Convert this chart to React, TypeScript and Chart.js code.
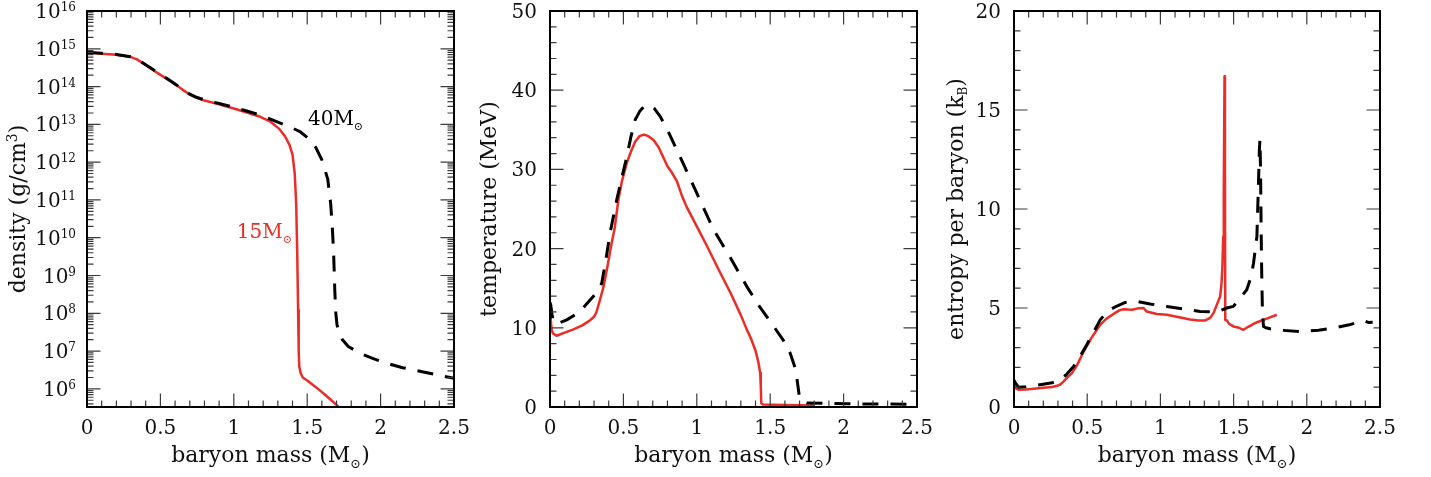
import React, { useEffect, useRef } from 'react';
import { Chart, registerables } from 'chart.js';

Chart.register(...registerables);

const RED = 'rgb(236,44,38)';
const BLACK = '#000';
const FONT = '"DejaVu Serif", "Liberation Serif", serif';

// ---------- shared x axis ----------
const xTickValues = [0, 0.5, 1, 1.5, 2, 2.5];
const xTickLabels = ['0', '0.5', '1', '1.5', '2', '2.5'];

// ---------- panel 1 : density (log10 g/cm^3) ----------
const densityTickExponents = [6, 7, 8, 9, 10, 11, 12, 13, 14, 15, 16];
const mass15Density = [0, 0.1, 0.2, 0.3, 0.34, 0.4, 0.45, 0.5, 0.55, 0.6, 0.65, 0.7, 0.75, 0.8, 0.9, 1.0, 1.1, 1.18, 1.25, 1.31, 1.35, 1.38, 1.4, 1.415, 1.425, 1.432, 1.438, 1.442, 1.446, 1.455, 1.47, 1.5, 1.54, 1.58, 1.62, 1.67, 1.72];
const log10Density15 = [14.9, 14.87, 14.84, 14.78, 14.72, 14.57, 14.44, 14.31, 14.19, 14.06, 13.92, 13.79, 13.7, 13.63, 13.53, 13.42, 13.3, 13.2, 13.07, 12.88, 12.68, 12.45, 12.2, 11.7, 10.9, 9.6, 8.1, 7.0, 6.6, 6.42, 6.3, 6.22, 6.1, 5.98, 5.85, 5.68, 5.5];
const mass40Density = [0, 0.1, 0.2, 0.3, 0.34, 0.4, 0.45, 0.5, 0.55, 0.6, 0.65, 0.7, 0.75, 0.8, 0.9, 1.0, 1.1, 1.2, 1.3, 1.4, 1.45, 1.52, 1.56, 1.6, 1.64, 1.66, 1.672, 1.68, 1.688, 1.695, 1.703, 1.715, 1.74, 1.78, 1.86, 1.95, 2.04, 2.15, 2.3, 2.5];
const log10Density40 = [14.91, 14.88, 14.85, 14.79, 14.73, 14.58, 14.45, 14.32, 14.2, 14.07, 13.93, 13.8, 13.71, 13.65, 13.55, 13.45, 13.34, 13.22, 13.06, 12.9, 12.81, 12.59, 12.38, 12.06, 11.55, 10.9, 10.2, 9.6, 8.6, 8.0, 7.7, 7.5, 7.3, 7.12, 6.94, 6.8, 6.68, 6.56, 6.44, 6.28];

// ---------- panel 2 : temperature (MeV) ----------
const tempTickValues = [0, 10, 20, 30, 40, 50];
const tempTickLabels = ['0', '10', '20', '30', '40', '50'];
const mass15Temp = [0, 0.005, 0.012, 0.02, 0.045, 0.1, 0.16, 0.22, 0.27, 0.3, 0.315, 0.34, 0.365, 0.39, 0.42, 0.44, 0.466, 0.49, 0.523, 0.55, 0.58, 0.61, 0.64, 0.67, 0.705, 0.74, 0.77, 0.8, 0.83, 0.865, 0.9, 0.93, 1.0, 1.07, 1.15, 1.23, 1.3, 1.34, 1.37, 1.4, 1.42, 1.432, 1.436, 1.439, 1.45, 1.6, 1.8];
const temp15 = [11.2, 11.0, 9.7, 9.3, 9.0, 9.4, 9.8, 10.3, 10.9, 11.4, 11.9, 13.5, 15.2, 17.6, 20.7, 22.5, 26.2, 28.5, 30.8, 32.2, 33.5, 34.2, 34.4, 34.2, 33.7, 32.8, 31.6, 30.4, 29.6, 28.5, 26.6, 25.3, 22.8, 20.3, 17.3, 14.4, 11.6, 9.8, 8.6, 7.1, 5.6, 4.3, 2.5, 0.5, 0.3, 0.25, 0.2];
const mass40Temp = [0, 0.005, 0.015, 0.025, 0.06, 0.114, 0.2, 0.273, 0.32, 0.352, 0.38, 0.409, 0.455, 0.49, 0.523, 0.55, 0.58, 0.61, 0.636, 0.66, 0.682, 0.71, 0.75, 0.8, 0.886, 1.0, 1.114, 1.23, 1.341, 1.43, 1.523, 1.59, 1.636, 1.665, 1.68, 1.69, 1.7, 1.72, 1.75, 2.02, 2.45];
const temp40 = [13.2, 12.9, 11.5, 10.6, 10.6, 11.0, 12.0, 13.5, 14.5, 15.6, 18.5, 21.95, 26.2, 29.0, 31.6, 34.0, 36.25, 37.3, 37.85, 38.1, 38.1, 37.7, 36.7, 35.0, 31.6, 27.0, 22.4, 18.8, 15.2, 12.6, 10.2, 8.4, 6.8, 5.2, 3.9, 2.5, 1.13, 0.7, 0.5, 0.4, 0.35];

// ---------- panel 3 : entropy per baryon (kB) ----------
const entropyTickValues = [0, 5, 10, 15, 20];
const entropyTickLabels = ['0', '5', '10', '15', '20'];
const mass15Entropy = [0, 0.01, 0.03, 0.08, 0.134, 0.2, 0.26, 0.294, 0.32, 0.339, 0.365, 0.396, 0.43, 0.476, 0.53, 0.589, 0.63, 0.68, 0.72, 0.748, 0.78, 0.805, 0.84, 0.885, 0.907, 0.975, 1.044, 1.12, 1.203, 1.26, 1.306, 1.34, 1.363, 1.385, 1.408, 1.418, 1.424, 1.429, 1.433, 1.438, 1.441, 1.443, 1.454, 1.47, 1.499, 1.53, 1.567, 1.6, 1.636, 1.66, 1.693, 1.74, 1.795];
const entropy15 = [1.1, 0.95, 0.87, 0.88, 0.92, 0.97, 1.01, 1.07, 1.15, 1.29, 1.5, 1.71, 2.1, 2.8, 3.5, 4.15, 4.45, 4.7, 4.88, 4.94, 4.92, 4.91, 4.97, 5.0, 4.82, 4.7, 4.66, 4.55, 4.42, 4.37, 4.37, 4.5, 4.74, 5.16, 5.58, 6.3, 7.2, 8.6, 11.0, 16.7, 12.0, 4.4, 4.37, 4.2, 4.07, 4.02, 3.9, 4.05, 4.2, 4.28, 4.37, 4.5, 4.66];
const mass40Entropy = [0, 0.01, 0.032, 0.08, 0.134, 0.2, 0.26, 0.316, 0.36, 0.407, 0.45, 0.498, 0.545, 0.589, 0.64, 0.703, 0.76, 0.84, 0.93, 1.044, 1.158, 1.272, 1.385, 1.454, 1.499, 1.544, 1.59, 1.62, 1.636, 1.659, 1.67, 1.676, 1.68, 1.684, 1.688, 1.692, 1.697, 1.704, 1.72, 1.749, 1.795, 1.84, 1.954, 2.08, 2.18, 2.29, 2.364, 2.39, 2.42, 2.45];
const entropy40 = [1.35, 1.2, 1.0, 1.02, 1.07, 1.15, 1.22, 1.37, 1.65, 2.05, 2.55, 3.16, 3.8, 4.4, 4.85, 5.1, 5.28, 5.33, 5.2, 5.08, 4.95, 4.82, 4.8, 5.0, 5.08, 5.5, 5.92, 6.6, 7.26, 8.6, 11.3, 12.98, 13.5, 12.0, 9.0, 6.75, 4.8, 4.07, 4.0, 3.95, 3.9, 3.87, 3.81, 3.88, 3.98, 4.15, 4.32, 4.36, 4.27, 4.28];

type Part = { t: string; size: number; dy: number };

const xTitle: Part[] = [
  { t: 'baryon mass (M', size: 22, dy: 0 },
  { t: '\u2299', size: 13, dy: 5.5 },
  { t: ')', size: 22, dy: 0 },
];

function richWidth(ctx: CanvasRenderingContext2D, parts: Part[]) {
  let w = 0;
  for (const p of parts) {
    ctx.font = `${p.size}px ${FONT}`;
    w += ctx.measureText(p.t).width;
  }
  return w;
}

function drawRich(ctx: CanvasRenderingContext2D, parts: Part[], x: number, y: number, align: 'left' | 'center' | 'right') {
  const w = richWidth(ctx, parts);
  let cx = align === 'left' ? x : align === 'center' ? x - w / 2 : x - w;
  ctx.textAlign = 'left';
  ctx.textBaseline = 'alphabetic';
  for (const p of parts) {
    ctx.font = `${p.size}px ${FONT}`;
    ctx.fillText(p.t, cx, y + p.dy);
    cx += ctx.measureText(p.t).width;
  }
}

interface Note { x: number; y: number; parts: Part[]; color: string }

interface PanelSpec {
  left: number;
  width: number;
  pad: { left: number; right: number; top: number; bottom: number };
  yType: 'linear' | 'logarithmic';
  yMin: number;
  yMax: number;
  yMajor: number[];
  yMinor: number[];
  yLabels: Part[][];
  yLabelRight: number;
  yTitle: Part[];
  yTitleX: number;
  xTitleY: number;
  red: { x: number[]; y: number[] };
  black: { x: number[]; y: number[] };
  notes: Note[];
}

function makeDecor(spec: PanelSpec) {
  return {
    id: 'panelDecor',
    afterDatasetsDraw(chart: any) {
      const { ctx, chartArea: a, scales } = chart;
      const xs = scales.x;
      const ys = scales.y;
      ctx.save();
      // ticks
      ctx.strokeStyle = '#3c3c3c';
      ctx.lineWidth = 1.2;
      ctx.beginPath();
      const MAJ = 13.5;
      const MIN = 6.5;
      const vt = (v: number, len: number) => {
        const px = xs.getPixelForValue(v);
        ctx.moveTo(px, a.bottom);
        ctx.lineTo(px, a.bottom - len);
        ctx.moveTo(px, a.top);
        ctx.lineTo(px, a.top + len);
      };
      const ht = (v: number, len: number) => {
        const py = ys.getPixelForValue(v);
        ctx.moveTo(a.left, py);
        ctx.lineTo(a.left + len, py);
        ctx.moveTo(a.right, py);
        ctx.lineTo(a.right - len, py);
      };
      for (let i = 0; i <= 25; i++) {
        if (i % 5 !== 0) vt(i / 10, MIN);
      }
      xTickValues.forEach((v) => vt(v, MAJ));
      spec.yMinor.forEach((v) => ht(v, MIN));
      spec.yMajor.forEach((v) => ht(v, MAJ));
      ctx.stroke();

      // frame
      ctx.strokeStyle = BLACK;
      ctx.lineWidth = 2;
      ctx.strokeRect(a.left, a.top, a.right - a.left, a.bottom - a.top);

      // tick labels
      ctx.fillStyle = '#111';
      xTickValues.forEach((v, i) => {
        drawRich(ctx, [{ t: xTickLabels[i], size: 20, dy: 0 }], xs.getPixelForValue(v), a.bottom + 26.5, 'center');
      });
      spec.yMajor.forEach((v, i) => {
        drawRich(ctx, spec.yLabels[i], spec.yLabelRight, ys.getPixelForValue(v) + 7, 'right');
      });

      // axis titles
      drawRich(ctx, xTitle, (a.left + a.right) / 2, spec.xTitleY, 'center');
      ctx.save();
      ctx.translate(spec.yTitleX, (a.top + a.bottom) / 2);
      ctx.rotate(-Math.PI / 2);
      drawRich(ctx, spec.yTitle, 0, 0, 'center');
      ctx.restore();

      // annotations
      spec.notes.forEach((n) => {
        ctx.fillStyle = n.color;
        drawRich(ctx, n.parts, xs.getPixelForValue(n.x), ys.getPixelForValue(n.y), 'left');
      });
      ctx.restore();
    },
  };
}

function toPoints(xs: number[], ys: number[], f?: (v: number) => number) {
  return xs.map((x, i) => ({ x, y: f ? f(ys[i]) : ys[i] }));
}

const H = 477;

const logMinor: number[] = [];
for (let n = 5; n <= 15; n++) {
  for (let m = 2; m <= 9; m++) {
    const v = m * Math.pow(10, n);
    if (v > Math.pow(10, 5.52) && v < 1e16) logMinor.push(v);
  }
}
const linMinor = (max: number, step: number, majorStep: number) => {
  const out: number[] = [];
  for (let v = 0; v <= max + 1e-9; v += step) {
    if (Math.abs(v / majorStep - Math.round(v / majorStep)) > 1e-6) out.push(v);
  }
  return out;
};

const panels: PanelSpec[] = [
  {
    left: 0,
    width: 477,
    pad: { left: 87, right: 23, top: 11, bottom: 70 },
    yType: 'logarithmic',
    yMin: Math.pow(10, 5.52),
    yMax: 1e16,
    yMajor: densityTickExponents.map((e) => Math.pow(10, e)),
    yMinor: logMinor,
    yLabels: densityTickExponents.map((e) => [
      { t: '10', size: 20, dy: 0 },
      { t: String(e), size: 12, dy: -7 },
    ]),
    yLabelRight: 76,
    yTitle: [
      { t: 'density (g/cm', size: 22, dy: 0 },
      { t: '3', size: 14, dy: -8 },
      { t: ')', size: 22, dy: 0 },
    ],
    yTitleX: 25,
    xTitleY: 462,
    red: { x: mass15Density, y: log10Density15 },
    black: { x: mass40Density, y: log10Density40 },
    notes: [
      { x: 1.505, y: 9.5e12, color: BLACK, parts: [{ t: '40M', size: 20, dy: 0 }, { t: '\u2299', size: 11, dy: 5 }] },
      { x: 1.02, y: 1.0e10, color: RED, parts: [{ t: '15M', size: 20, dy: 0 }, { t: '\u2299', size: 11, dy: 5 }] },
    ],
  },
  {
    left: 477,
    width: 458,
    pad: { left: 73, right: 18, top: 11, bottom: 70 },
    yType: 'linear',
    yMin: 0,
    yMax: 50,
    yMajor: tempTickValues,
    yMinor: linMinor(50, 2, 10),
    yLabels: tempTickLabels.map((t) => [{ t, size: 20, dy: 0 }]),
    yLabelRight: 60,
    yTitle: [{ t: 'temperature (MeV)', size: 22, dy: 0 }],
    yTitleX: 19,
    xTitleY: 462,
    red: { x: mass15Temp, y: temp15 },
    black: { x: mass40Temp, y: temp40 },
    notes: [],
  },
  {
    left: 935,
    width: 496,
    pad: { left: 79, right: 51, top: 11, bottom: 70 },
    yType: 'linear',
    yMin: 0,
    yMax: 20,
    yMajor: entropyTickValues,
    yMinor: linMinor(20, 1, 5),
    yLabels: entropyTickLabels.map((t) => [{ t, size: 20, dy: 0 }]),
    yLabelRight: 66,
    yTitle: [
      { t: 'entropy per baryon (k', size: 22, dy: 0 },
      { t: 'B', size: 12, dy: 4 },
      { t: ')', size: 22, dy: 0 },
    ],
    yTitleX: 28,
    xTitleY: 462,
    red: { x: mass15Entropy, y: entropy15 },
    black: { x: mass40Entropy, y: entropy40 },
    notes: [],
  },
];

function Panel({ spec }: { spec: PanelSpec }) {
  const ref = useRef<HTMLCanvasElement | null>(null);
  useEffect(() => {
    if (!ref.current) return;
    const conv = spec.yType === 'logarithmic' ? (v: number) => Math.pow(10, v) : undefined;
    const chart = new Chart(ref.current, {
      type: 'line',
      data: {
        datasets: [
          {
            label: '40 Msun',
            data: toPoints(spec.black.x, spec.black.y, conv),
            borderColor: BLACK,
            borderWidth: 3,
            borderDash: [16, 12],
            borderJoinStyle: 'round',
            pointRadius: 0,
            fill: false,
            tension: 0,
          },
          {
            label: '15 Msun',
            data: toPoints(spec.red.x, spec.red.y, conv),
            borderColor: RED,
            borderWidth: 2.5,
            borderJoinStyle: 'round',
            pointRadius: 0,
            fill: false,
            tension: 0,
          },
        ],
      },
      options: {
        responsive: false,
        animation: false,
        devicePixelRatio: 1,
        events: [],
        layout: { padding: spec.pad },
        plugins: { legend: { display: false }, tooltip: { enabled: false } },
        scales: {
          x: { type: 'linear', min: 0, max: 2.5, display: false },
          y: { type: spec.yType, min: spec.yMin, max: spec.yMax, display: false },
        },
      },
      plugins: [makeDecor(spec)],
    } as any);
    return () => chart.destroy();
  }, [spec]);
  return (
    <canvas
      ref={ref}
      width={spec.width}
      height={H}
      style={{ position: 'absolute', left: spec.left, top: 0, width: spec.width, height: H }}
    />
  );
}

export default function App() {
  return (
    <div style={{ position: 'absolute', left: 0, top: 0, width: 1431, height: H, background: '#fff' }}>
      {panels.map((p, i) => (
        <Panel key={i} spec={p} />
      ))}
    </div>
  );
}
